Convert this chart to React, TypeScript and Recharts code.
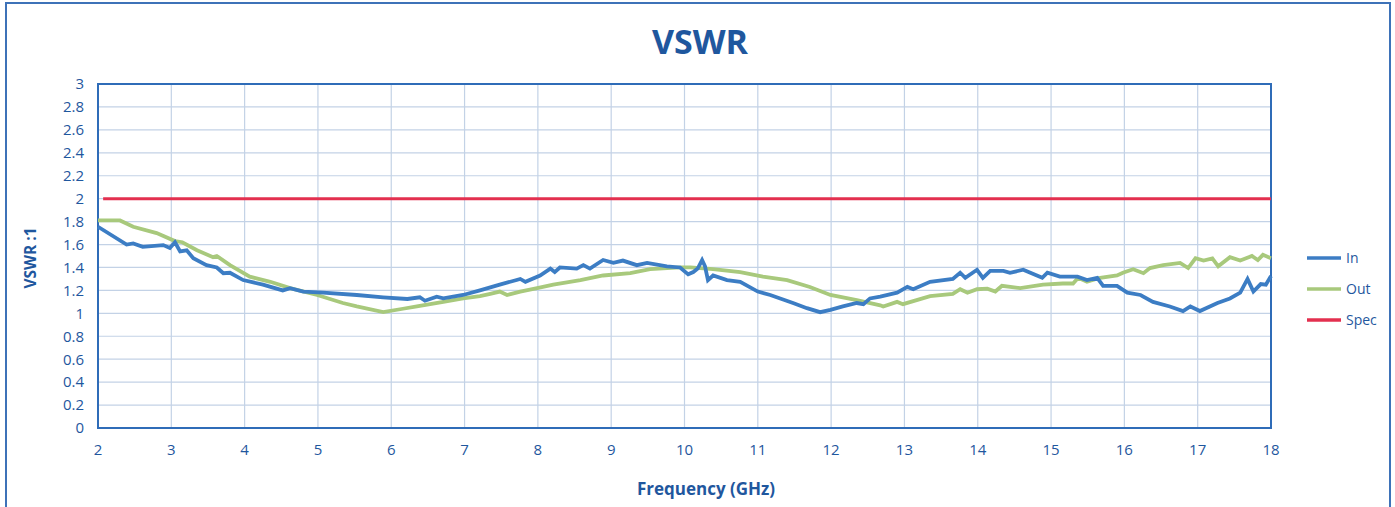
import React from 'react';
import { LineChart, Line, XAxis, YAxis, CartesianGrid, ReferenceArea, Legend } from 'recharts';

const xTicks = [2, 3, 4, 5, 6, 7, 8, 9, 10, 11, 12, 13, 14, 15, 16, 17, 18];
const yTicks = [0, 0.2, 0.4, 0.6, 0.8, 1, 1.2, 1.4, 1.6, 1.8, 2, 2.2, 2.4, 2.6, 2.8, 3];

const inFreq = [2.0, 2.39, 2.48, 2.61, 2.89, 2.98, 3.05, 3.12, 3.21, 3.3, 3.48, 3.62, 3.71, 3.8, 3.98, 4.25, 4.52, 4.62, 4.8, 5.07, 5.53, 5.89, 6.22, 6.39, 6.46, 6.62, 6.71, 6.98, 7.21, 7.48, 7.76, 7.83, 8.03, 8.17, 8.23, 8.3, 8.53, 8.62, 8.71, 8.89, 9.03, 9.16, 9.35, 9.49, 9.76, 9.94, 10.05, 10.12, 10.18, 10.24, 10.28, 10.32, 10.39, 10.58, 10.76, 11.0, 11.17, 11.48, 11.67, 11.85, 11.99, 12.16, 12.35, 12.44, 12.53, 12.67, 12.9, 13.04, 13.12, 13.35, 13.66, 13.76, 13.83, 13.99, 14.07, 14.17, 14.35, 14.44, 14.62, 14.88, 14.95, 15.12, 15.36, 15.49, 15.63, 15.71, 15.9, 16.04, 16.22, 16.39, 16.62, 16.8, 16.9, 17.03, 17.27, 17.44, 17.58, 17.68, 17.76, 17.86, 17.93, 18.0];
const inVswr = [1.755, 1.6, 1.61, 1.58, 1.595, 1.57, 1.62, 1.54, 1.55, 1.48, 1.42, 1.4, 1.35, 1.354, 1.29, 1.25, 1.2, 1.22, 1.19, 1.18, 1.16, 1.14, 1.125, 1.14, 1.11, 1.145, 1.13, 1.16, 1.2, 1.25, 1.3, 1.275, 1.33, 1.39, 1.36, 1.4, 1.39, 1.42, 1.39, 1.465, 1.44, 1.46, 1.42, 1.44, 1.41, 1.4, 1.34, 1.36, 1.39, 1.465, 1.41, 1.29, 1.33, 1.29, 1.275, 1.19, 1.16, 1.09, 1.045, 1.01, 1.03, 1.06, 1.09, 1.08, 1.13, 1.145, 1.18, 1.23, 1.21, 1.275, 1.3, 1.354, 1.31, 1.38, 1.31, 1.37, 1.37, 1.354, 1.38, 1.31, 1.354, 1.32, 1.32, 1.29, 1.31, 1.24, 1.24, 1.18, 1.16, 1.1, 1.06, 1.02, 1.06, 1.02, 1.09, 1.13, 1.18, 1.3, 1.19, 1.255, 1.25, 1.325];

const outFreq = [2.0, 2.3, 2.48, 2.8, 3.05, 3.15, 3.35, 3.57, 3.62, 3.8, 4.07, 4.35, 4.62, 4.99, 5.34, 5.53, 5.89, 6.16, 6.35, 6.71, 6.98, 7.21, 7.35, 7.48, 7.58, 7.76, 7.99, 8.21, 8.58, 8.89, 9.26, 9.53, 9.94, 10.08, 10.39, 10.76, 11.07, 11.4, 11.71, 11.99, 12.35, 12.67, 12.71, 12.9, 12.98, 13.35, 13.66, 13.76, 13.86, 13.99, 14.13, 14.24, 14.33, 14.58, 14.89, 15.16, 15.3, 15.37, 15.49, 15.67, 15.9, 15.98, 16.12, 16.26, 16.35, 16.53, 16.76, 16.87, 16.97, 17.08, 17.2, 17.28, 17.44, 17.58, 17.74, 17.82, 17.89, 18.0];
const outVswr = [1.81, 1.81, 1.755, 1.7, 1.63, 1.62, 1.55, 1.49, 1.5, 1.42, 1.32, 1.275, 1.22, 1.16, 1.09, 1.06, 1.01, 1.04, 1.06, 1.1, 1.13, 1.15, 1.17, 1.19, 1.16, 1.19, 1.22, 1.25, 1.29, 1.33, 1.35, 1.385, 1.4, 1.4, 1.385, 1.36, 1.32, 1.29, 1.23, 1.16, 1.115, 1.07, 1.06, 1.1, 1.08, 1.15, 1.17, 1.21, 1.18, 1.21, 1.215, 1.19, 1.24, 1.22, 1.25, 1.26, 1.26, 1.31, 1.275, 1.31, 1.33, 1.354, 1.385, 1.35, 1.395, 1.42, 1.44, 1.395, 1.48, 1.46, 1.48, 1.41, 1.49, 1.46, 1.5, 1.465, 1.51, 1.48];

const specFreq = [2.07, 18];
const specVswr = [2, 2];

const inData = inFreq.map((f, i) => ({ f, v: inVswr[i] }));
const outData = outFreq.map((f, i) => ({ f, v: outVswr[i] }));
const specData = specFreq.map((f, i) => ({ f, v: specVswr[i] }));

const FONT = '"Open Sans", sans-serif';
const TEXT = '#1F579E';
const BLUE = '#3C7DC4';
const GREEN = '#A8C97C';
const RED = '#E3304F';

const legendItems = [
  { name: 'In', color: BLUE },
  { name: 'Out', color: GREEN },
  { name: 'Spec', color: RED },
];

const LegendContent = () => (
  <div style={{ fontFamily: FONT, color: TEXT, fontSize: 14 }}>
    {legendItems.map((it) => (
      <div key={it.name} style={{ display: 'flex', alignItems: 'center', height: 31 }}>
        <svg width={36} height={6} style={{ marginRight: 4 }}>
          <line x1={1} y1={3} x2={35} y2={3} stroke={it.color} strokeWidth={3.5} />
        </svg>
        <span>{it.name}</span>
      </div>
    ))}
  </div>
);

export default function App() {
  return (
    <div style={{ position: 'absolute', left: 0, top: 0, width: 1395, height: 507, overflow: 'hidden', background: '#fff' }}>
      <div style={{ position: 'absolute', left: 5, top: 2, width: 1386, height: 530, border: '2px solid #3E72B8', boxSizing: 'border-box' }} />
      <div style={{ position: 'absolute', left: 0, top: 18, width: 1400, textAlign: 'center', fontFamily: FONT, fontWeight: 700, fontSize: 34, color: TEXT }}>VSWR</div>
      <div style={{ position: 'absolute', left: 30, top: 258, transform: 'translate(-50%, -50%) rotate(-90deg)', fontFamily: FONT, fontWeight: 700, fontSize: 15.5, color: TEXT, whiteSpace: 'nowrap' }}>VSWR :1</div>
      <div style={{ position: 'absolute', left: 706, top: 488, transform: 'translate(-50%, -50%)', fontFamily: FONT, fontWeight: 700, fontSize: 17, color: TEXT, whiteSpace: 'nowrap' }}>Frequency (GHz)</div>
      <LineChart width={1395} height={507} margin={{ top: 84, right: 124, bottom: 39, left: 38 }} style={{ position: 'absolute', left: 0, top: 0 }}>
        <CartesianGrid stroke="#C3D2E6" strokeWidth={1.2} vertical horizontal />
        <XAxis
          dataKey="f"
          type="number"
          domain={[2, 18]}
          ticks={xTicks}
          allowDuplicatedCategory={false}
          height={40}
          tickLine={false}
          axisLine={false}
          tickMargin={10}
          tick={{ fill: TEXT, fontSize: 15, fontFamily: FONT }}
        />
        <YAxis
          dataKey="v"
          type="number"
          domain={[0, 3]}
          ticks={yTicks}
          width={60}
          tickLine={false}
          axisLine={false}
          tickMargin={8}
          interval={0}
          tick={{ fill: TEXT, fontSize: 15, fontFamily: FONT }}
        />
        <ReferenceArea x1={2} x2={18} y1={0} y2={3} fill="none" stroke="#2F6CB8" strokeWidth={2} />
        <Line data={specData} dataKey="v" name="Spec" stroke={RED} strokeWidth={3} dot={false} isAnimationActive={false} />
        <Line data={outData} dataKey="v" name="Out" stroke={GREEN} strokeWidth={3.8} dot={false} isAnimationActive={false} />
        <Line data={inData} dataKey="v" name="In" stroke={BLUE} strokeWidth={3.8} dot={false} isAnimationActive={false} />
        <Legend
          layout="horizontal"
          verticalAlign="middle"
          align="center"
          content={<LegendContent />}
          wrapperStyle={{ position: 'absolute', left: 1306, top: 242, width: 85 }}
        />
      </LineChart>
    </div>
  );
}
